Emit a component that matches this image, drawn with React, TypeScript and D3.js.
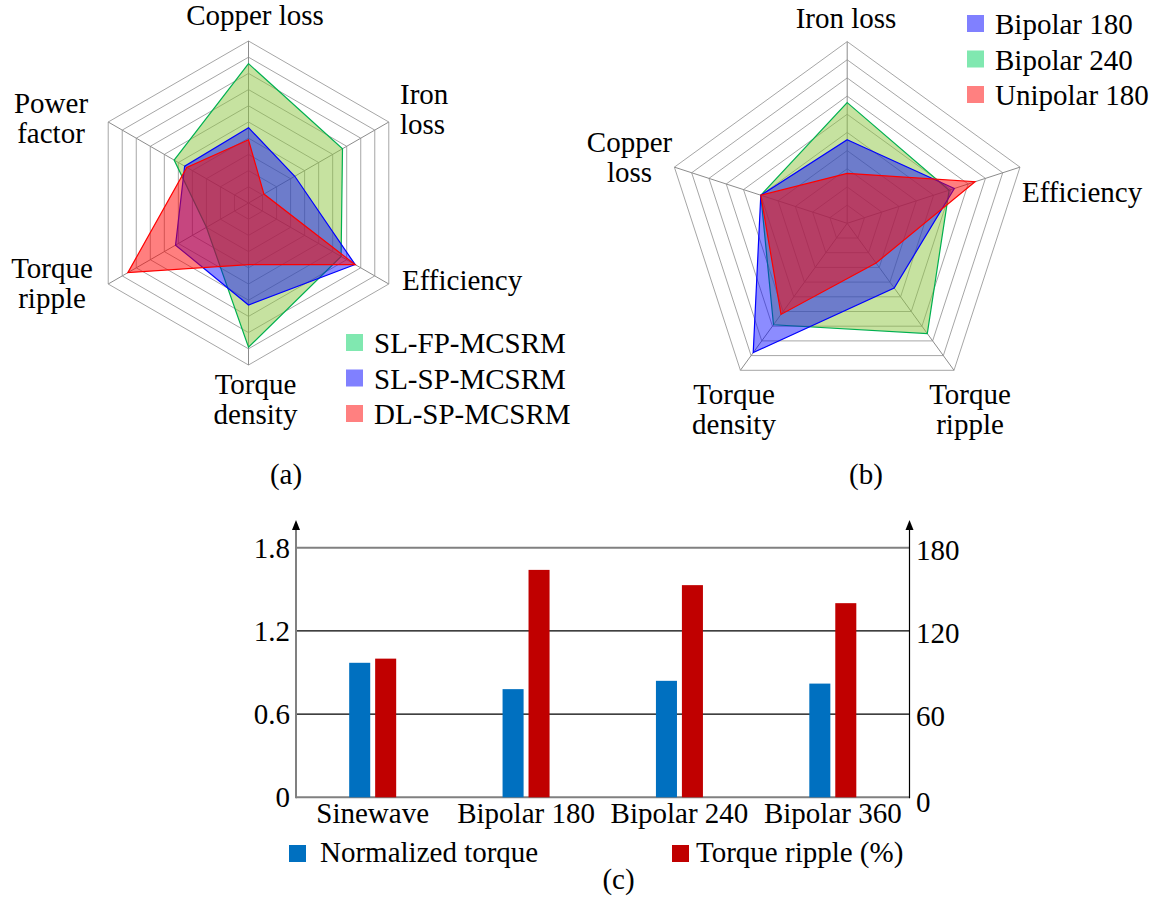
import * as d3 from "d3";

// radar (a)
const axesA = ["Copper loss", "Iron loss", "Efficiency", "Torque density", "Torque ripple", "Power factor"];
const seriesA = ["SL-FP-MCSRM", "SL-SP-MCSRM", "DL-SP-MCSRM"];
const slFp = [0.86, 0.67, 0.66, 0.89, 0.3, 0.53];
const slSp = [0.465, 0.33, 0.76, 0.63, 0.52, 0.455];
const dlSp = [0.39, 0.11, 0.76, 0.38, 0.86, 0.44];

// radar (b)
const axesB = ["Iron loss", "Efficiency", "Torque ripple", "Torque density", "Copper loss"];
const seriesB = ["Bipolar 180", "Bipolar 240", "Unipolar 180"];
const bipolar180 = [0.46, 0.62, 0.44, 0.88, 0.5];
const bipolar240 = [0.664, 0.59, 0.75, 0.69, 0.5];
const unipolar180 = [0.275, 0.74, 0.27, 0.62, 0.5];

// bars (c)
const modes = ["Sinewave", "Bipolar 180", "Bipolar 240", "Bipolar 360"];
const normTorque = [0.97, 0.78, 0.84, 0.82];
const torqueRipple = [100, 164, 153, 140];
const leftTicks = [0, 0.6, 1.2, 1.8];
const rightTicks = [0, 60, 120, 180];

const FONT = "Liberation Serif, Times New Roman, DejaVu Serif, serif";
const FS = 29;

const GREEN = { fill: "#8dc541", stroke: "#00b050", swatch: "#80e8b0" };
const BLUE = { fill: "#0000ff", stroke: "#0000ff", swatch: "#8080ff" };
const RED = { fill: "#ff0000", stroke: "#ff0000", swatch: "#ff8080" };

type Lbl = { lines: string[]; x: number; y: number; anchor: string };

const txt = { fontFamily: FONT, fontSize: FS };

function Radar({ cx, cy, R, n, data, styles, opac, labels }: {
  cx: number; cy: number; R: number; n: number;
  data: number[][]; styles: typeof GREEN[]; opac: number[]; labels: Lbl[];
}) {
  const r = d3.scaleLinear().domain([0, 1]).range([0, R]);
  const ang = (i: number) => -Math.PI / 2 + (2 * Math.PI * i) / n;
  const pt = (v: number, i: number): [number, number] => [cx + r(v) * Math.cos(ang(i)), cy + r(v) * Math.sin(ang(i))];
  const line = d3.line().curve(d3.curveLinearClosed);
  const rings = d3.range(1, 11).map((k) => k / 10);
  const idx = d3.range(n);
  return (
    <g>
      {rings.map((k) => (
        <path key={k} d={line(idx.map((i) => pt(k, i)))!} fill="none" stroke="#a6a6a6" strokeWidth={1} />
      ))}
      {idx.map((i) => {
        const [x, y] = pt(1, i);
        return <line key={i} x1={cx} y1={cy} x2={x} y2={y} stroke="#8c8c8c" strokeWidth={1} />;
      })}
      {data.map((vals, s) => (
        <path key={s} d={line(vals.map((v, i) => pt(v, i)))!} fill={styles[s].fill} fillOpacity={opac[s]}
          stroke={styles[s].stroke} strokeWidth={1.2} />
      ))}
      {labels.map((l, i) => (
        <text key={i} x={l.x} y={l.y} textAnchor={l.anchor} style={txt}>
          {l.lines.map((t, j) => (
            <tspan key={j} x={l.x} dy={j === 0 ? 0 : 30}>{t}</tspan>
          ))}
        </text>
      ))}
    </g>
  );
}

function Legend({ x, y, names, colors }: { x: number; y: number; names: string[]; colors: string[] }) {
  return (
    <g>
      {names.map((nm, i) => (
        <g key={nm} transform={`translate(${x},${y + i * 35.5})`}>
          <rect x={0} y={0} width={17} height={17} fill={colors[i]} />
          <text x={28} y={19} style={txt}>{nm}</text>
        </g>
      ))}
    </g>
  );
}

function Bars() {
  const left = 296, right = 909.5, base = 797.3, top = 547.7;
  const x0 = d3.scaleBand().domain(modes).range([left, right]);
  const x1 = d3.scaleBand().domain(["t", "r"]).range([-23.5, 23.5]).paddingInner(0.19);
  const yL = d3.scaleLinear().domain([0, 1.8]).range([base, top]);
  const yR = d3.scaleLinear().domain([0, 180]).range([base, top]);
  return (
    <g>
      {leftTicks.map((t) => (
        <line key={t} x1={left} x2={right} y1={yL(t)} y2={yL(t)}
          stroke={t === 0 || t === 1.8 ? "#808080" : "#000"} strokeWidth={t === 0 || t === 1.8 ? 2 : 1.2} />
      ))}
      <line x1={left} x2={left} y1={base + 1} y2={528} stroke="#808080" strokeWidth={2} />
      <path d={`M${left - 4},${530} L${left},${520} L${left + 4},${530} Z`} fill="#000" />
      <line x1={right} x2={right} y1={base + 1} y2={528} stroke="#000" strokeWidth={1.2} />
      <path d={`M${right - 4},${530} L${right},${520} L${right + 4},${530} Z`} fill="#000" />
      {modes.map((m, i) => (
        <g key={m} transform={`translate(${x0(m)! + x0.bandwidth() / 2},0)`}>
          <rect x={x1("t")} y={yL(normTorque[i])} width={x1.bandwidth()} height={base - yL(normTorque[i])} fill="#0070c0" />
          <rect x={x1("r")} y={yR(torqueRipple[i])} width={x1.bandwidth()} height={base - yR(torqueRipple[i])} fill="#c00000" />
          <text x={0} y={823} textAnchor="middle" style={txt}>{m}</text>
        </g>
      ))}
      {leftTicks.map((t) => (
        <text key={t} x={290} y={yL(t)} dy="0.35em" textAnchor="end" style={txt}>{String(t)}</text>
      ))}
      {rightTicks.map((t) => (
        <text key={t} x={916} y={yR(t) + (t === 0 ? 5 : 2)} dy="0.35em" textAnchor="start" style={txt}>{String(t)}</text>
      ))}
      <rect x={289} y={845} width={17} height={17} fill="#0070c0" />
      <text x={320} y={862} style={txt}>Normalized torque</text>
      <rect x={672} y={845} width={17} height={17} fill="#c00000" />
      <text x={696} y={862} style={txt}>Torque ripple (%)</text>
      <text x={618.5} y={889} textAnchor="middle" style={txt}>(c)</text>
    </g>
  );
}

export default function App() {
  const labelsA: Lbl[] = [
    { lines: ["Copper loss"], x: 255, y: 25, anchor: "middle" },
    { lines: ["Iron", "loss"], x: 400, y: 104, anchor: "start" },
    { lines: ["Efficiency"], x: 402, y: 290, anchor: "start" },
    { lines: ["Torque", "density"], x: 255.5, y: 394, anchor: "middle" },
    { lines: ["Torque", "ripple"], x: 52, y: 278, anchor: "middle" },
    { lines: ["Power", "factor"], x: 51, y: 113, anchor: "middle" },
  ];
  const labelsB: Lbl[] = [
    { lines: ["Iron loss"], x: 846, y: 28, anchor: "middle" },
    { lines: ["Efficiency"], x: 1022, y: 202, anchor: "start" },
    { lines: ["Torque", "ripple"], x: 970, y: 404, anchor: "middle" },
    { lines: ["Torque", "density"], x: 734, y: 404, anchor: "middle" },
    { lines: ["Copper", "loss"], x: 629.5, y: 152, anchor: "middle" },
  ];
  return (
    <svg width={1165} height={897} style={{ position: "absolute", left: 0, top: 0, background: "#fff", fontFamily: FONT }}>
      <Radar cx={248.5} cy={203} R={162} n={axesA.length} data={[slFp, slSp, dlSp]}
        styles={[GREEN, BLUE, RED]} opac={[0.5, 0.45, 0.5]} labels={labelsA} />
      <Legend x={346} y={334} names={seriesA} colors={[GREEN.swatch, BLUE.swatch, RED.swatch]} />
      <text x={286} y={484} textAnchor="middle" style={txt}>(a)</text>

      <Radar cx={847.2} cy={223.3} R={181.7} n={axesB.length} data={[bipolar240, bipolar180, unipolar180]}
        styles={[GREEN, BLUE, RED]} opac={[0.5, 0.45, 0.5]} labels={labelsB} />
      <Legend x={967} y={15} names={seriesB} colors={[BLUE.swatch, GREEN.swatch, RED.swatch]} />
      <text x={866} y={484} textAnchor="middle" style={txt}>(b)</text>

      <Bars />
    </svg>
  );
}
